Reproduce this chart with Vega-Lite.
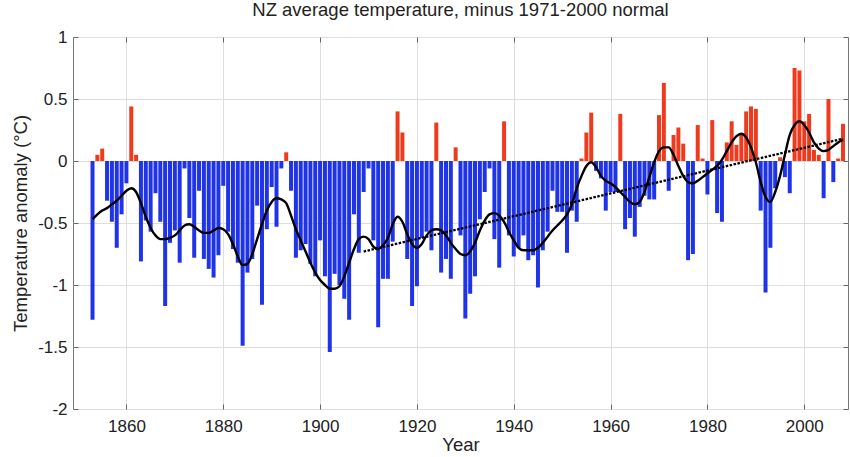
{
  "$schema": "https://vega.github.io/schema/vega-lite/v6.json",
  "width": 775,
  "height": 372,
  "autosize": {"type": "none"},
  "padding": {"left": 73, "top": 37, "right": 2, "bottom": 48},
  "background": "white",
  "title": {"text": "NZ average temperature, minus 1971-2000 normal", "font": "Liberation Sans", "fontSize": 18.5, "fontWeight": "normal", "color": "#222", "anchor": "middle", "offset": 9},
  "config": {
    "view": {"stroke": "#777", "strokeWidth": 1},
    "axis": {"labelFont": "Liberation Sans", "titleFont": "Liberation Sans", "labelColor": "#222", "titleColor": "#222", "labelFontSize": 17, "titleFontSize": 18.5, "titleFontWeight": "normal", "tickColor": "#666", "domain": false}
  },
  "datasets": {
    "bars": [
      {"year":1853,"v":-1.28},{"year":1854,"v":0.05},{"year":1855,"v":0.10},{"year":1856,"v":-0.32},{"year":1857,"v":-0.49},{"year":1858,"v":-0.70},{"year":1859,"v":-0.43},{"year":1860,"v":-0.18},{"year":1861,"v":0.44},{"year":1862,"v":0.05},{"year":1863,"v":-0.81},{"year":1864,"v":-0.48},{"year":1865,"v":-0.57},{"year":1866,"v":-0.26},{"year":1867,"v":-0.49},{"year":1868,"v":-1.17},{"year":1869,"v":-0.66},{"year":1870,"v":-0.56},{"year":1871,"v":-0.82},{"year":1872,"v":-0.06},{"year":1873,"v":-0.46},{"year":1874,"v":-0.78},{"year":1875,"v":-0.24},{"year":1876,"v":-0.79},{"year":1877,"v":-0.87},{"year":1878,"v":-0.94},{"year":1879,"v":-0.76},{"year":1880,"v":-0.20},{"year":1881,"v":-0.57},{"year":1882,"v":-0.71},{"year":1883,"v":-0.82},{"year":1884,"v":-1.49},{"year":1885,"v":-0.90},{"year":1886,"v":-0.79},{"year":1887,"v":-0.36},{"year":1888,"v":-1.16},{"year":1889,"v":-0.55},{"year":1890,"v":-0.21},{"year":1891,"v":-0.53},{"year":1892,"v":-0.06},{"year":1893,"v":0.07},{"year":1894,"v":-0.24},{"year":1895,"v":-0.78},{"year":1896,"v":-0.72},{"year":1897,"v":-0.67},{"year":1898,"v":-0.83},{"year":1899,"v":-0.93},{"year":1900,"v":-0.64},{"year":1901,"v":-0.93},{"year":1902,"v":-1.54},{"year":1903,"v":-0.91},{"year":1904,"v":-1.00},{"year":1905,"v":-1.11},{"year":1906,"v":-1.28},{"year":1907,"v":-0.43},{"year":1908,"v":-0.74},{"year":1909,"v":-0.25},{"year":1910,"v":-0.06},{"year":1911,"v":-0.64},{"year":1912,"v":-1.34},{"year":1913,"v":-0.95},{"year":1914,"v":-0.95},{"year":1915,"v":-0.65},{"year":1916,"v":0.40},{"year":1917,"v":0.23},{"year":1918,"v":-0.79},{"year":1919,"v":-1.17},{"year":1920,"v":-1.01},{"year":1921,"v":-0.62},{"year":1922,"v":-0.57},{"year":1923,"v":-0.72},{"year":1924,"v":0.31},{"year":1925,"v":-0.90},{"year":1926,"v":-0.79},{"year":1927,"v":-0.95},{"year":1928,"v":0.11},{"year":1929,"v":-0.60},{"year":1930,"v":-1.27},{"year":1931,"v":-1.07},{"year":1932,"v":-0.93},{"year":1933,"v":-0.47},{"year":1934,"v":-0.25},{"year":1935,"v":-0.06},{"year":1936,"v":-0.63},{"year":1937,"v":-0.86},{"year":1938,"v":0.32},{"year":1939,"v":-0.60},{"year":1940,"v":-0.77},{"year":1941,"v":-0.70},{"year":1942,"v":-0.60},{"year":1943,"v":-0.80},{"year":1944,"v":-0.76},{"year":1945,"v":-1.02},{"year":1946,"v":-0.72},{"year":1947,"v":-0.57},{"year":1948,"v":-0.24},{"year":1949,"v":-0.41},{"year":1950,"v":-0.41},{"year":1951,"v":-0.74},{"year":1952,"v":-0.40},{"year":1953,"v":-0.49},{"year":1954,"v":0.02},{"year":1955,"v":0.23},{"year":1956,"v":0.39},{"year":1957,"v":-0.08},{"year":1958,"v":-0.14},{"year":1959,"v":-0.40},{"year":1960,"v":-0.25},{"year":1961,"v":-0.25},{"year":1962,"v":0.38},{"year":1963,"v":-0.55},{"year":1964,"v":-0.46},{"year":1965,"v":-0.61},{"year":1966,"v":-0.37},{"year":1967,"v":-0.28},{"year":1968,"v":-0.31},{"year":1969,"v":-0.31},{"year":1970,"v":0.37},{"year":1971,"v":0.63},{"year":1972,"v":-0.24},{"year":1973,"v":0.21},{"year":1974,"v":0.27},{"year":1975,"v":0.14},{"year":1976,"v":-0.80},{"year":1977,"v":-0.75},{"year":1978,"v":0.29},{"year":1979,"v":0.02},{"year":1980,"v":-0.27},{"year":1981,"v":0.33},{"year":1982,"v":-0.42},{"year":1983,"v":-0.49},{"year":1984,"v":0.15},{"year":1985,"v":0.32},{"year":1986,"v":0.13},{"year":1987,"v":0.22},{"year":1988,"v":0.40},{"year":1989,"v":0.44},{"year":1990,"v":0.42},{"year":1991,"v":-0.40},{"year":1992,"v":-1.06},{"year":1993,"v":-0.70},{"year":1994,"v":-0.22},{"year":1995,"v":0.03},{"year":1996,"v":-0.13},{"year":1997,"v":-0.26},{"year":1998,"v":0.75},{"year":1999,"v":0.73},{"year":2000,"v":0.32},{"year":2001,"v":0.38},{"year":2002,"v":0.09},{"year":2003,"v":0.05},{"year":2004,"v":-0.30},{"year":2005,"v":0.50},{"year":2006,"v":-0.17},{"year":2007,"v":0.02},{"year":2008,"v":0.30}
    ],
    "smooth": [
      {"year":1853,"s":-0.47},{"year":1854,"s":-0.43},{"year":1855,"s":-0.40},{"year":1856,"s":-0.38},{"year":1857,"s":-0.35},{"year":1858,"s":-0.32},{"year":1859,"s":-0.28},{"year":1860,"s":-0.24},{"year":1861,"s":-0.22},{"year":1862,"s":-0.25},{"year":1863,"s":-0.34},{"year":1864,"s":-0.45},{"year":1865,"s":-0.54},{"year":1866,"s":-0.60},{"year":1867,"s":-0.63},{"year":1868,"s":-0.63},{"year":1869,"s":-0.62},{"year":1870,"s":-0.60},{"year":1871,"s":-0.56},{"year":1872,"s":-0.52},{"year":1873,"s":-0.51},{"year":1874,"s":-0.53},{"year":1875,"s":-0.56},{"year":1876,"s":-0.58},{"year":1877,"s":-0.58},{"year":1878,"s":-0.56},{"year":1879,"s":-0.54},{"year":1880,"s":-0.55},{"year":1881,"s":-0.59},{"year":1882,"s":-0.67},{"year":1883,"s":-0.77},{"year":1884,"s":-0.84},{"year":1885,"s":-0.83},{"year":1886,"s":-0.75},{"year":1887,"s":-0.63},{"year":1888,"s":-0.51},{"year":1889,"s":-0.40},{"year":1890,"s":-0.33},{"year":1891,"s":-0.30},{"year":1892,"s":-0.31},{"year":1893,"s":-0.34},{"year":1894,"s":-0.44},{"year":1895,"s":-0.55},{"year":1896,"s":-0.64},{"year":1897,"s":-0.73},{"year":1898,"s":-0.82},{"year":1899,"s":-0.90},{"year":1900,"s":-0.96},{"year":1901,"s":-1.00},{"year":1902,"s":-1.03},{"year":1903,"s":-1.03},{"year":1904,"s":-1.01},{"year":1905,"s":-0.93},{"year":1906,"s":-0.82},{"year":1907,"s":-0.71},{"year":1908,"s":-0.63},{"year":1909,"s":-0.61},{"year":1910,"s":-0.63},{"year":1911,"s":-0.69},{"year":1912,"s":-0.71},{"year":1913,"s":-0.68},{"year":1914,"s":-0.62},{"year":1915,"s":-0.51},{"year":1916,"s":-0.45},{"year":1917,"s":-0.49},{"year":1918,"s":-0.59},{"year":1919,"s":-0.67},{"year":1920,"s":-0.70},{"year":1921,"s":-0.67},{"year":1922,"s":-0.60},{"year":1923,"s":-0.56},{"year":1924,"s":-0.55},{"year":1925,"s":-0.56},{"year":1926,"s":-0.60},{"year":1927,"s":-0.66},{"year":1928,"s":-0.71},{"year":1929,"s":-0.75},{"year":1930,"s":-0.76},{"year":1931,"s":-0.73},{"year":1932,"s":-0.66},{"year":1933,"s":-0.56},{"year":1934,"s":-0.48},{"year":1935,"s":-0.43},{"year":1936,"s":-0.42},{"year":1937,"s":-0.44},{"year":1938,"s":-0.49},{"year":1939,"s":-0.57},{"year":1940,"s":-0.64},{"year":1941,"s":-0.70},{"year":1942,"s":-0.72},{"year":1943,"s":-0.72},{"year":1944,"s":-0.72},{"year":1945,"s":-0.70},{"year":1946,"s":-0.66},{"year":1947,"s":-0.61},{"year":1948,"s":-0.56},{"year":1949,"s":-0.52},{"year":1950,"s":-0.48},{"year":1951,"s":-0.43},{"year":1952,"s":-0.35},{"year":1953,"s":-0.22},{"year":1954,"s":-0.12},{"year":1955,"s":-0.04},{"year":1956,"s":-0.01},{"year":1957,"s":-0.05},{"year":1958,"s":-0.12},{"year":1959,"s":-0.16},{"year":1960,"s":-0.18},{"year":1961,"s":-0.21},{"year":1962,"s":-0.25},{"year":1963,"s":-0.29},{"year":1964,"s":-0.33},{"year":1965,"s":-0.35},{"year":1966,"s":-0.33},{"year":1967,"s":-0.25},{"year":1968,"s":-0.13},{"year":1969,"s":-0.01},{"year":1970,"s":0.08},{"year":1971,"s":0.11},{"year":1972,"s":0.11},{"year":1973,"s":0.05},{"year":1974,"s":-0.04},{"year":1975,"s":-0.12},{"year":1976,"s":-0.17},{"year":1977,"s":-0.18},{"year":1978,"s":-0.16},{"year":1979,"s":-0.13},{"year":1980,"s":-0.10},{"year":1981,"s":-0.07},{"year":1982,"s":-0.04},{"year":1983,"s":0.01},{"year":1984,"s":0.08},{"year":1985,"s":0.15},{"year":1986,"s":0.20},{"year":1987,"s":0.22},{"year":1988,"s":0.19},{"year":1989,"s":0.11},{"year":1990,"s":-0.01},{"year":1991,"s":-0.17},{"year":1992,"s":-0.29},{"year":1993,"s":-0.33},{"year":1994,"s":-0.25},{"year":1995,"s":-0.12},{"year":1996,"s":0.05},{"year":1997,"s":0.21},{"year":1998,"s":0.29},{"year":1999,"s":0.32},{"year":2000,"s":0.29},{"year":2001,"s":0.23},{"year":2002,"s":0.15},{"year":2003,"s":0.10},{"year":2004,"s":0.08},{"year":2005,"s":0.09},{"year":2006,"s":0.12},{"year":2007,"s":0.15},{"year":2008,"s":0.17}
    ],
    "trend": [{"year":1909,"t":-0.73},{"year":2008,"t":0.18}]
  },
  "layer": [
    {
      "data": {"name": "bars"},
      "mark": {"type": "bar", "size": 4, "clip": true},
      "encoding": {
        "x": {"field": "year", "type": "quantitative", "scale": {"domain": [1850, 2008], "nice": false, "zero": false},
              "axis": {"orient": "bottom", "values": [1860,1880,1900,1920,1940,1960,1980,2000], "format": "d", "title": "Year", "grid": true, "gridColor": "#dedede", "tickSize": -5, "labelPadding": 14, "titlePadding": 1}},
        "y": {"field": "v", "type": "quantitative", "scale": {"domain": [-2, 1], "nice": false},
              "axis": {"orient": "left", "values": [-2,-1.5,-1,-0.5,0,0.5,1], "labelExpr": "'' + datum.value", "title": "Temperature anomaly (°C)", "grid": true, "gridColor": "#dedede", "tickSize": -5, "labelPadding": 11, "titlePadding": 7}},
        "y2": {"datum": 0},
        "color": {"condition": {"test": "datum.v > 0", "value": "#f03a1e"}, "value": "#1f33e8"}
      }
    },
    {
      "data": {"name": "smooth"},
      "mark": {"type": "line", "color": "black", "strokeWidth": 2.4, "interpolate": "monotone", "clip": true},
      "encoding": {
        "x": {"field": "year", "type": "quantitative", "axis": null},
        "y": {"field": "s", "type": "quantitative", "axis": null}
      }
    },
    {
      "data": {"name": "trend"},
      "mark": {"type": "line", "color": "black", "strokeWidth": 2.3, "strokeDash": [2.5, 1.5], "clip": true},
      "encoding": {
        "x": {"field": "year", "type": "quantitative",
              "axis": {"orient": "top", "values": [1860,1880,1900,1920,1940,1960,1980,2000], "labels": false, "title": null, "grid": false, "tickSize": -5}},
        "y": {"field": "t", "type": "quantitative",
              "axis": {"orient": "right", "values": [-2,-1.5,-1,-0.5,0,0.5,1], "labels": false, "title": null, "grid": false, "tickSize": -5}}
      }
    }
  ]
}
